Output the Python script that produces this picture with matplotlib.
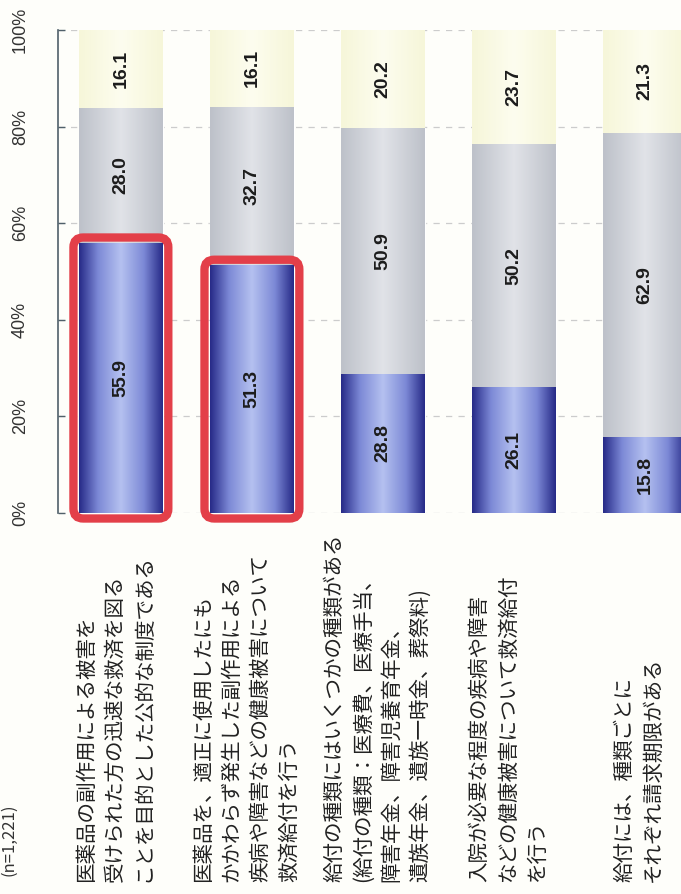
import numpy as np
import matplotlib.pyplot as plt
from matplotlib.colors import LinearSegmentedColormap
from matplotlib.patches import FancyBboxPatch
from matplotlib.transforms import blended_transform_factory, ScaledTranslation

plt.rcParams['font.family'] = ['Noto Sans CJK JP', 'DejaVu Sans']

labels = [
    ["医薬品の副作用による被害を", "受けられた方の迅速な救済を図る", "ことを目的とした公的な制度である"],
    ["医薬品を、適正に使用したにも", "かかわらず発生した副作用による",
     "疾病や障害などの健康被害について", "救済給付を行う"],
    ["給付の種類にはいくつかの種類がある", "(給付の種類：医療費、医療手当、",
     "障害年金、障害児養育年金、", "遺族年金、遺族一時金、葬祭料)"],
    ["入院が必要な程度の疾病や障害", "などの健康被害について救済給付", "を行う"],
    ["給付には、種類ごとに", "それぞれ請求期限がある"],
]
known = [55.9, 51.3, 28.8, 26.1, 15.8]
heard = [28.0, 32.7, 50.9, 50.2, 62.9]
unknown = [16.1, 16.1, 20.2, 23.7, 21.3]
highlight = [0, 1]
yticks = [0, 20, 40, 60, 80, 100]
n_label = "(n=1,221)"

blue = LinearSegmentedColormap.from_list("blue", [(0, "#b5c1f0"), (0.55, "#7c89d6"), (1, "#272b88")])
gray = LinearSegmentedColormap.from_list("gray", [(0, "#e1e3e8"), (1, "#bdc1c9")])
cream = LinearSegmentedColormap.from_list("cream", [(0, "#fdfdef"), (1, "#f6f6d9")])


def shade(ax, bars, cmap):
    # horizontal gradient, light in the middle and dark at the edges
    grad = np.abs(np.linspace(-1, 1, 128))[None, :]
    for p in bars:
        x0, y0, w, h = p.get_x(), p.get_y(), p.get_width(), p.get_height()
        im = ax.imshow(grad, cmap=cmap, vmin=0, vmax=1, aspect='auto',
                       extent=(x0, x0 + w, y0, y0 + h), zorder=2,
                       interpolation='bilinear')
        im.set_clip_path(p)


fig = plt.figure(figsize=(6.81, 8.94), dpi=100, facecolor="#fefefa")
ax = fig.add_axes([58 / 681, 1 - 513 / 894, 623 / 681, 483 / 894])
ax.set_facecolor("none")

x = np.arange(len(labels))
width = 0.64
b1 = ax.bar(x, known, width, color="#6a76c8", edgecolor="white", linewidth=1, zorder=2)
b2 = ax.bar(x, heard, width, bottom=known, color="#cfd2d8", edgecolor="white", linewidth=1, zorder=2)
bottom3 = np.array(known) + np.array(heard)
b3 = ax.bar(x, unknown, width, bottom=bottom3, color="#fafae2", linewidth=0, zorder=2)
shade(ax, b1, blue)
shade(ax, b2, gray)
shade(ax, b3, cream)

ax.set_xlim(-0.48, 4.275)
ax.set_ylim(0, 100)

# value labels
for bars, vals in ((b1, known), (b2, heard), (b3, unknown)):
    for p, v in zip(bars, vals):
        ax.text(p.get_x() + p.get_width() / 2, p.get_y() + p.get_height() / 2,
                f"{v:.1f}", rotation=90, ha='center', va='center',
                fontsize=14, fontweight='bold', family='Liberation Sans',
                color="#1c1c1c", zorder=6)

# red frames around the highlighted items
aspect = (131 / 4.83)
for i in highlight:
    p = b1[i]
    box = FancyBboxPatch((p.get_x(), p.get_y()), p.get_width(), p.get_height(),
                         boxstyle="round,pad=0.042,rounding_size=0.075",
                         mutation_aspect=aspect, fc="none", ec="#e33f49",
                         lw=6, zorder=5, clip_on=False)
    ax.add_patch(box)

ax.set_yticks(yticks)
ax.set_yticklabels([f"{t}%" for t in yticks], rotation=90, va='center',
                   fontsize=13, family='Liberation Sans', color="#333333")
ax.tick_params(axis='y', direction='in', length=5, width=1, color="#50606a", pad=21)
ax.set_xticks([])
for s in ("top", "right", "bottom"):
    ax.spines[s].set_visible(False)
ax.spines["left"].set_color("#50606a")
ax.spines["left"].set_linewidth(1.2)
ax.yaxis.grid(True, linestyle=(0, (5, 5)), color="#cccccc", linewidth=0.9)
ax.set_axisbelow(True)

# category labels: one rotated text per line, starting near the bottom edge
trans = blended_transform_factory(ax.transData, fig.transFigure)
step = 28.5
for xi, lines in zip(x, labels):
    n = len(lines)
    for j, line in enumerate(lines):
        dx = (j - (n - 1) / 2) * step - 6
        ax.text(xi, 1 - 882 / 894, line, rotation=90, rotation_mode='anchor',
                ha='left', va='center', fontsize=14.8, color="#222222",
                clip_on=False,
                transform=trans + ScaledTranslation(dx / 100, 0, fig.dpi_scale_trans))

fig.text(9 / 681, 1 - 840 / 894, n_label, rotation=90, ha='center',
         va='center', fontsize=12, color="#333333")

fig.savefig("out.png", dpi=100, facecolor=fig.get_facecolor())
